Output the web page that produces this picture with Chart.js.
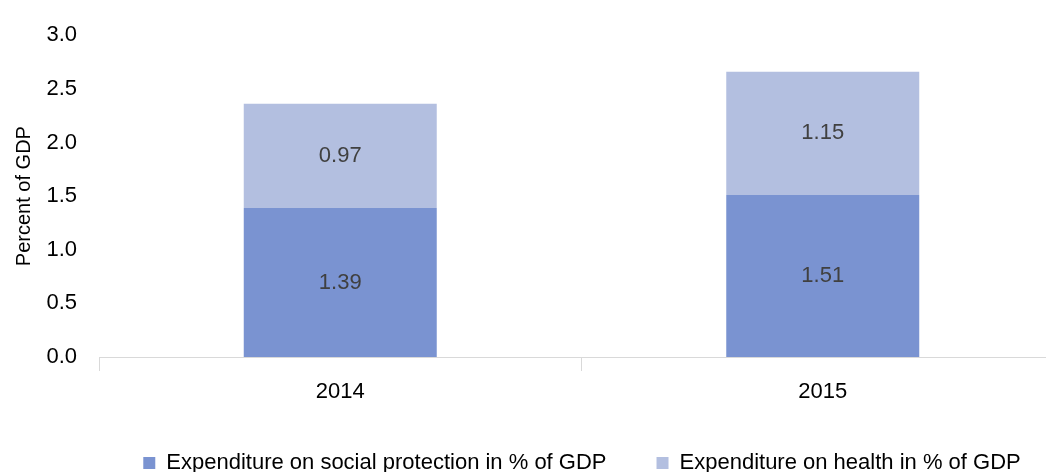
<!DOCTYPE html>
<html>
<head>
<meta charset="utf-8">
<script src="https://cdn.jsdelivr.net/npm/chart.js@4.4.1/dist/chart.umd.min.js"></script>
<style>
  html, body { margin: 0; padding: 0; background: #ffffff; overflow: hidden; }
  #frame { width: 1046px; height: 472px; overflow: hidden; }
  #wrap { width: 1164px; height: 472px; position: relative; }
</style>
</head>
<body>
<div id="frame"><div id="wrap"><canvas id="chart"></canvas></div></div>
<script>
// Years on the x axis
const years = ['2014', '2015'];
// Expenditure shares, percent of GDP
const socialProtection = [1.39, 1.51];
const health = [0.97, 1.15];
// Series names
const seriesNames = ['Expenditure on social protection in % of GDP', 'Expenditure on health in % of GDP'];
// Value axis ticks
const yTicks = [0, 0.5, 1.0, 1.5, 2.0, 2.5, 3.0];

const FONT = "'Liberation Sans', Arial, sans-serif";

// Writes each segment's value in the middle of its bar
const segmentLabels = {
  id: 'segmentLabels',
  afterDatasetsDraw(chart) {
    const ctx = chart.ctx;
    ctx.save();
    ctx.font = '22px ' + FONT;
    ctx.fillStyle = '#404040';
    ctx.textAlign = 'center';
    ctx.textBaseline = 'middle';
    chart.data.datasets.forEach((ds, di) => {
      chart.getDatasetMeta(di).data.forEach((bar, i) => {
        const cy = (bar.y + bar.base) / 2;
        ctx.fillText(ds.data[i].toFixed(2), bar.x, cy);
      });
    });
    ctx.restore();
  }
};

// Moves the legend block right so it sits under the middle of the wide plot
const legendShift = {
  id: 'legendShift',
  afterLayout(chart) {
    const lg = chart.legend;
    if (lg) { lg.left += 50; lg.right += 50; }
  }
};

new Chart(document.getElementById('chart'), {
  type: 'bar',
  data: {
    labels: years,
    datasets: [
      { label: seriesNames[0], data: socialProtection, backgroundColor: '#7a93d1', borderWidth: 0 },
      { label: seriesNames[1], data: health, backgroundColor: '#b3bfe0', borderWidth: 0 }
    ]
  },
  options: {
    responsive: true,
    maintainAspectRatio: false,
    animation: false,
    events: [],
    layout: { padding: { top: 33, bottom: -12, left: 0, right: 100 } },
    datasets: { bar: { barPercentage: 0.4, categoryPercentage: 1.0 } },
    scales: {
      x: {
        stacked: true,
        offset: true,
        grid: { display: true, drawOnChartArea: false, drawTicks: true, tickLength: 14, offset: true, color: '#d9d9d9', lineWidth: 1 },
        border: { display: true, color: '#d9d9d9', width: 1 },
        ticks: { font: { family: FONT, size: 22 }, color: '#000000', padding: 8 },
        afterFit(scale) { scale.height = 45; }
      },
      y: {
        stacked: true,
        min: 0,
        max: 3,
        afterBuildTicks(scale) { scale.ticks = yTicks.map(v => ({ value: v })); },
        grid: { display: false, drawTicks: false },
        border: { display: false },
        ticks: {
          font: { family: FONT, size: 22 },
          color: '#000000',
          padding: 22,
          callback: v => Number(v).toFixed(1)
        },
        title: {
          display: true,
          text: 'Percent of GDP',
          font: { family: FONT, size: 20 },
          color: '#000000',
          padding: { top: 12, bottom: 0 }
        },
        afterFit(scale) { scale.width = 99; }
      }
    },
    plugins: {
      legend: {
        position: 'bottom',
        labels: {
          font: { family: FONT, size: 22 },
          color: '#000000',
          boxWidth: 12,
          boxHeight: 12,
          padding: 50
        }
      },
      tooltip: { enabled: false }
    }
  },
  plugins: [segmentLabels, legendShift]
});
</script>
</body>
</html>
